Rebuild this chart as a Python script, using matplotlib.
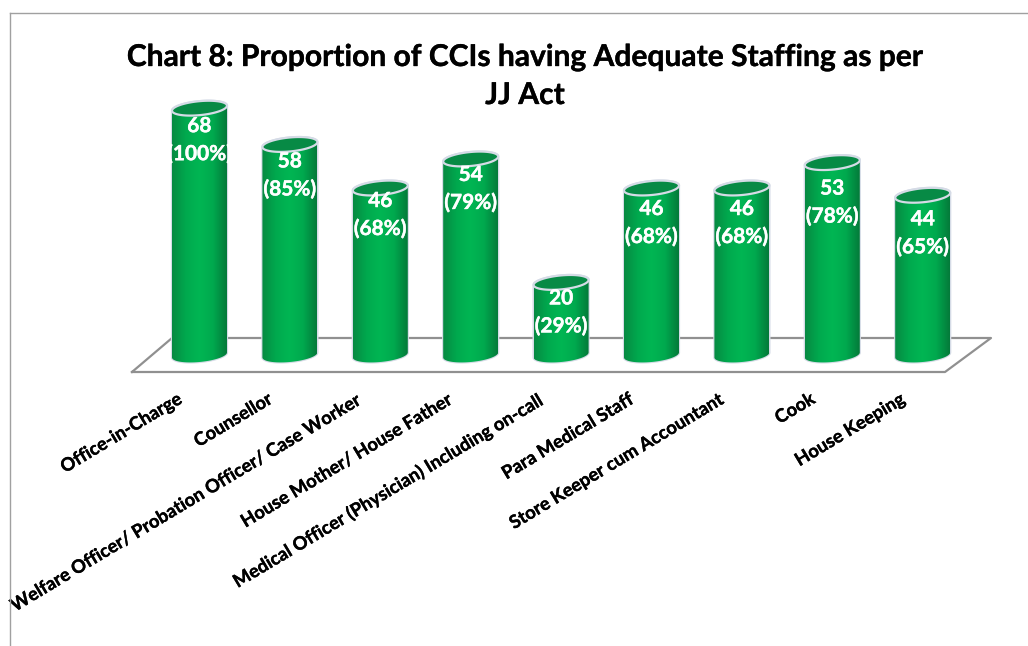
import numpy as np
from matplotlib import pyplot as plt
from matplotlib import patheffects
from matplotlib.colors import LinearSegmentedColormap
from matplotlib.patches import Polygon

plt.rcParams['font.family'] = ['Lato', 'DejaVu Sans']

categories = ["Office-in-Charge", "Counsellor",
              "Welfare Officer/ Probation Officer/ Case Worker",
              "House Mother/ House Father",
              "Medical Officer (Physician) Including on-call",
              "Para Medical Staff", "Store Keeper cum Accountant",
              "Cook", "House Keeping"]
counts = [68, 58, 46, 54, 20, 46, 46, 53, 44]
percents = [100, 85, 68, 79, 29, 68, 68, 78, 65]
title_lines = ["Chart 8: Proportion of CCIs having Adequate Staffing as per", "JJ Act"]

W, H = 1028, 646
x0_px, dx_px = 199.5, 90.4      # first bar centre, bar spacing
y0_px, dy_px = 355.0, 3.63      # zero line, pixels per staff count
label_drop = [18, 17, 13, 16, 16, 21, 21, 26, 24]   # hand placed, as in the original

fig = plt.figure(figsize=(W / 100, H / 100), dpi=100)
ax = fig.add_axes([0, 0, 1, 1])
ax.axis("off")

green = LinearSegmentedColormap.from_list(
    "cyl", ["#078a42", "#00a94e", "#00b653", "#00a94e", "#047a3a"])
gradient = np.linspace(0, 1, 128).reshape(1, -1)

half_w = 27.5 / dx_px
half_h = 7.0 / dy_px
tilt = 2.5 / dy_px
t = np.linspace(0, 2 * np.pi, 120)
heavy = [patheffects.withStroke(linewidth=0.3, foreground="white")]
heavy_black = [patheffects.withStroke(linewidth=0.25, foreground="black")]


def rim(cx, v, tt):
    return np.column_stack([cx + half_w * np.cos(tt),
                            v + half_h * np.sin(tt) + tilt * np.cos(tt)])


# floor of the 3D plot
floor_front = -17 / dy_px
floor_back = 17 / dy_px
floor_x = np.array([-67.5, -27.5, 791.5, 745.5, -67.5]) / dx_px
floor_y = [floor_front, floor_back, floor_back, floor_front, floor_front]
ax.plot(floor_x, floor_y, color="#909090", lw=1.6, zorder=1)

for i, (c, p) in enumerate(zip(counts, percents)):
    lower = rim(i, 0, np.linspace(np.pi, 2 * np.pi, 60))
    upper = rim(i, c, np.linspace(0, np.pi, 60))
    body = Polygon(np.vstack([lower, upper]), closed=True, fc="none",
                   ec="#d5dbe6", lw=1.6, zorder=2)
    ax.add_patch(body)
    im = ax.imshow(gradient, cmap=green, aspect="auto", zorder=2,
                   extent=[i - half_w, i + half_w, -half_h * 2, c + half_h * 2])
    im.set_clip_path(body)
    ax.add_patch(Polygon(rim(i, c, t), closed=True, fc="#078a45",
                         ec="#d5dbe6", lw=1.6, zorder=3))
    ax.annotate(str(c), (i, c), xytext=(0, -label_drop[i]),
                textcoords="offset pixels", ha="center", va="center",
                color="white", fontsize=15, fontweight="bold", zorder=4,
                path_effects=heavy)
    ax.annotate("(%d%%)" % p, (i, c), xytext=(0, -label_drop[i] - 28),
                textcoords="offset pixels", ha="center", va="center",
                color="white", fontsize=15, fontweight="bold", zorder=4,
                path_effects=heavy)
    ax.annotate(categories[i], (i, 0), xytext=(-23, -35),
                textcoords="offset pixels", ha="right", va="top",
                rotation=31, rotation_mode="anchor", color="black",
                fontsize=13.2, fontweight="bold", zorder=4,
                path_effects=heavy_black)

ax.set_xlim(-x0_px / dx_px, (W - x0_px) / dx_px)
ax.set_ylim(-(H - y0_px) / dy_px, y0_px / dy_px)

fig.text(525 / W, 1 - 57 / H, title_lines[0], ha="center", va="center",
         fontsize=21.6, fontweight="bold", color="black", path_effects=heavy_black)
fig.text(525 / W, 1 - 95 / H, title_lines[1], ha="center", va="center",
         fontsize=21.6, fontweight="bold", color="black", path_effects=heavy_black)

# border of the pasted chart, top and left only
fig.add_artist(plt.Line2D([9.5 / W, 1], [1 - 13 / H, 1 - 13 / H],
                          color="#a0a0a0", lw=1))
fig.add_artist(plt.Line2D([9.5 / W, 9.5 / W], [0, 1 - 13 / H],
                          color="#a0a0a0", lw=1))

fig.savefig("out.png", dpi=100)
